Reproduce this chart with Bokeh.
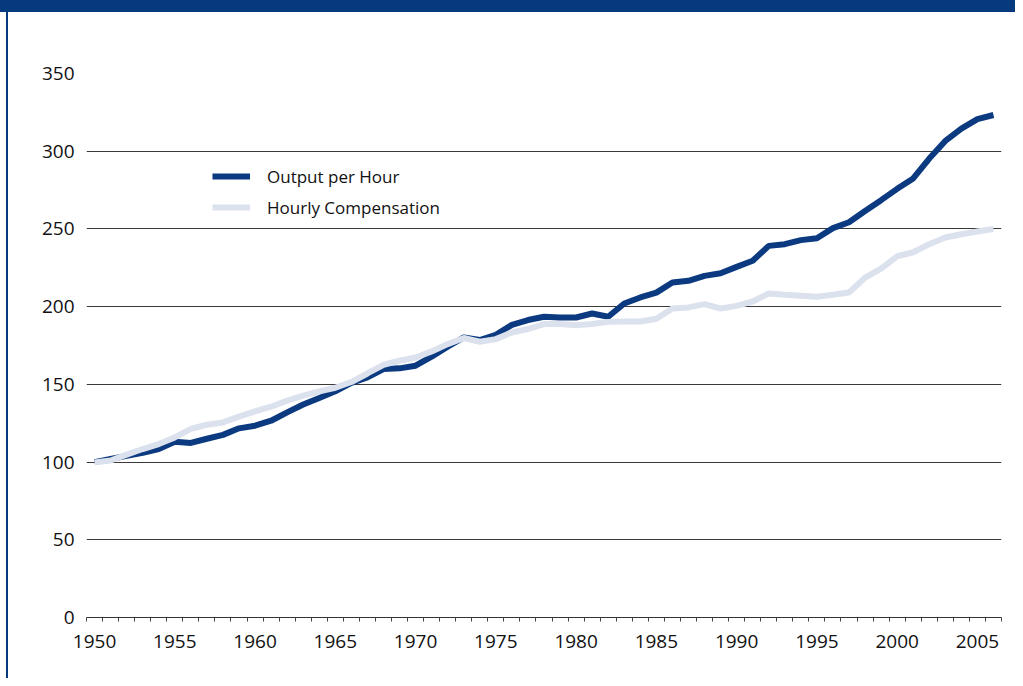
from bokeh.plotting import figure
from bokeh.models import Div, FixedTicker, Range1d, Legend, LegendItem, ColumnDataSource
from bokeh.layouts import column, row
from bokeh.embed import file_html
from bokeh.resources import INLINE

years = list(range(1950, 2007))
output_per_hour = [
    100, 102, 104, 106, 108.4, 113, 112.3, 115, 117.5, 121.7,
    123.4, 126.6, 132, 137, 141.2, 145.5, 151, 154.5, 159.9, 160.3,
    162, 167.8, 174.2, 180.2, 178.5, 181.9, 188.3, 191.4, 193.5, 193,
    193, 195.6, 193.5, 202, 205.9, 209, 215.5, 216.6, 219.8, 221.5,
    225.6, 229.5, 239.1, 240.2, 242.8, 244, 250.5, 254.3, 261.5, 268.5,
    275.8, 282.5, 295.3, 306.6, 314.5, 320.6, 323.3,
]
hourly_compensation = [
    99.8, 101, 104.8, 108.4, 111.6, 115.9, 121.3, 124, 125.5, 129.2,
    132.6, 135.6, 139.5, 142.7, 145.5, 147.8, 151.5, 157, 162.6, 165.2,
    167.3, 171.2, 175.9, 179.8, 177.4, 179.1, 183.4, 185.6, 188.8, 188.8,
    188.1, 188.8, 190.2, 190.4, 190.4, 192.2, 198.8, 199.5, 201.6, 198.8,
    200.5, 203.3, 208.5, 207.6, 207, 206.3, 207.6, 209.1, 218.7, 224.5,
    232.4, 235, 240.2, 244.5, 246.6, 248.3, 249.9,
]
x_tick_labels = [1950, 1955, 1960, 1965, 1970, 1975, 1980, 1985, 1990, 1995, 2000, 2005]
y_ticks = [0, 50, 100, 150, 200, 250, 300, 350]
series_names = ["Output per Hour", "Hourly Compensation"]

DARK = "#0b3a80"
LIGHT = "#dbe1ed"
FONT = "Open Sans"

src = ColumnDataSource(dict(year=years, oph=output_per_hour, comp=hourly_compensation))

p = figure(width=1007, height=666, output_backend="svg", toolbar_location=None,
           x_range=Range1d(years[0] - 0.5, years[-1] + 0.5), y_range=Range1d(0, 350),
           min_border_left=78, min_border_right=14, min_border_top=61, min_border_bottom=61)
p.outline_line_color = None
p.background_fill_color = "white"
p.border_fill_color = "white"

r1 = p.line("year", "oph", source=src, line_color=DARK, line_width=6)
r2 = p.line("year", "comp", source=src, line_color=LIGHT, line_width=6)

# x axis
xa = p.xaxis[0]
xa.ticker = FixedTicker(ticks=x_tick_labels, minor_ticks=[y - 0.5 for y in years] + [years[-1] + 0.5])
xa.major_tick_out = 0
xa.major_tick_in = 0
xa.minor_tick_out = 4
xa.minor_tick_in = 0
xa.minor_tick_line_color = "#444444"
xa.axis_line_color = "#333333"
xa.major_label_text_font = FONT
xa.major_label_text_font_size = "19px"
xa.major_label_text_color = "#111111"
xa.major_label_standoff = 13

# y axis
ya = p.yaxis[0]
ya.ticker = FixedTicker(ticks=y_ticks)
ya.axis_line_color = None
ya.major_tick_out = 0
ya.major_tick_in = 0
ya.minor_tick_out = 0
ya.minor_tick_in = 0
ya.major_label_text_font = FONT
ya.major_label_text_font_size = "19px"
ya.major_label_text_color = "#111111"
ya.major_label_standoff = 12

p.xgrid.visible = False
p.ygrid.ticker = FixedTicker(ticks=y_ticks[1:])
p.ygrid.grid_line_color = "#3a3a3a"
p.ygrid.grid_line_width = 1

legend = Legend(items=[LegendItem(label=series_names[0], renderers=[r1]),
                       LegendItem(label=series_names[1], renderers=[r2])],
                location=(126, 398), padding=0, margin=0, spacing=7,
                glyph_width=38, glyph_height=24, label_height=24, label_standoff=17,
                label_text_font=FONT, label_text_font_size="17px", label_text_color="#111111",
                border_line_alpha=0, background_fill_alpha=0)
p.add_layout(legend)

header = Div(text="", width=1015, height=12, margin=0, styles={"background-color": "#063a7e"})
gap = Div(text="", width=6, height=666, margin=0, styles={"background-color": "white"})
side = Div(text="", width=2, height=666, margin=0, styles={"background-color": "#063a7e"})
layout = column(header, row(gap, side, p, spacing=0), spacing=0)

open("out.html", "w").write(file_html(layout, INLINE))
